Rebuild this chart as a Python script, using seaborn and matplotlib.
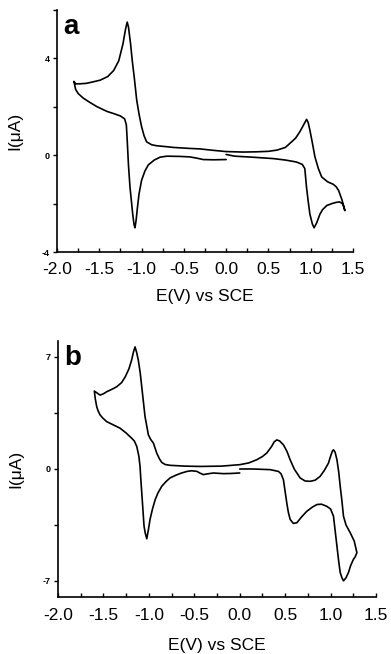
import matplotlib
matplotlib.use("Agg")
import matplotlib.pyplot as plt
from matplotlib.ticker import MultipleLocator
import numpy as np
import pandas as pd
import seaborn as sns

# Cyclic voltammogram (a): scan starts at 0.0 V, goes negative, then positive, back to 0.0 V
a_potential = [0.0, -0.15, -0.27, -0.35, -0.43, -0.55, -0.70, -0.78, -0.85, -0.92, -0.96, -1.0,
               -1.03, -1.05, -1.065, -1.078, -1.09, -1.105, -1.12, -1.137, -1.155, -1.17, -1.18,
               -1.2, -1.25, -1.33, -1.41, -1.53, -1.62, -1.69, -1.75, -1.78, -1.80,
               -1.78, -1.73, -1.65, -1.55, -1.49, -1.4, -1.33, -1.27, -1.22, -1.19, -1.17, -1.155,
               -1.13, -1.11, -1.086, -1.058, -1.03, -1.0, -0.97, -0.94, -0.88, -0.82, -0.7, -0.62,
               -0.43, -0.31, -0.15, 0.0, 0.2, 0.36, 0.5, 0.6, 0.7, 0.754, 0.82, 0.872, 0.92, 0.951,
               0.97, 0.99, 1.02, 1.05, 1.09, 1.13, 1.2, 1.265, 1.3, 1.33, 1.37, 1.404,
               1.38, 1.34, 1.30, 1.25, 1.19, 1.14, 1.11, 1.07, 1.04, 1.02, 0.99, 0.97, 0.95, 0.93,
               0.9, 0.83, 0.7, 0.557, 0.3, 0.1, 0.0]
a_current = [-0.18, -0.19, -0.18, -0.12, -0.07, -0.05, -0.04, -0.08, -0.2, -0.4, -0.65, -1.04,
             -1.6, -2.2, -2.7, -3.0, -2.85, -2.43, -1.9, -1.32, -0.4, 0.63, 1.25,
             1.5, 1.62, 1.72, 1.81, 2.01, 2.2, 2.36, 2.55, 2.72, 3.05,
             2.95, 2.95, 2.97, 3.05, 3.1, 3.25, 3.5, 3.9, 4.6, 5.2, 5.5, 5.3,
             4.6, 3.9, 3.2, 2.29, 1.7, 1.18, 0.8, 0.55, 0.43, 0.39, 0.35, 0.32,
             0.28, 0.26, 0.2, 0.15, 0.13, 0.14, 0.16, 0.21, 0.32, 0.49, 0.7, 0.97, 1.28, 1.48,
             1.35, 1.04, 0.5, -0.07, -0.55, -0.9, -1.1, -1.2, -1.3, -1.46, -1.85, -2.29,
             -2.01, -1.93, -1.95, -2.0, -2.08, -2.25, -2.43, -2.8, -3.0, -2.85, -2.43, -1.9, -1.31, -0.55,
             -0.38, -0.28, -0.2, -0.14, -0.08, -0.04, 0.03]

# Cyclic voltammogram (b)
b_potential = [0.0, -0.1, -0.18, -0.29, -0.35, -0.40, -0.44, -0.47, -0.53, -0.58, -0.64, -0.7,
               -0.767, -0.81, -0.858, -0.9, -0.93, -0.96, -0.987, -1.005, -1.023, -1.04, -1.053,
               -1.065, -1.078, -1.09, -1.097, -1.11, -1.133, -1.16, -1.19, -1.25, -1.317, -1.4,
               -1.464, -1.51, -1.537, -1.56, -1.574, -1.59, -1.60,
               -1.57, -1.537, -1.5, -1.464, -1.4, -1.354, -1.3, -1.26, -1.22, -1.19, -1.17, -1.152,
               -1.135, -1.116, -1.095, -1.078, -1.06, -1.042, -1.02, -1.005, -0.98, -0.95, -0.913,
               -0.885, -0.858, -0.82, -0.767, -0.6, -0.436, -0.2, 0.0, 0.1, 0.188, 0.25, 0.298,
               0.35, 0.38, 0.408, 0.44, 0.481, 0.52, 0.555, 0.6, 0.665, 0.72, 0.775, 0.83, 0.885,
               0.93, 0.977, 1.0, 1.02, 1.032, 1.05, 1.07, 1.09, 1.106, 1.125, 1.142, 1.17, 1.216,
               1.26, 1.29,
               1.27, 1.252, 1.22, 1.197, 1.17, 1.142, 1.125, 1.106, 1.09, 1.07, 1.05, 1.032, 1.0,
               0.958, 0.9, 0.85, 0.8, 0.739, 0.68, 0.629, 0.59, 0.555, 0.535, 0.518, 0.5, 0.481,
               0.455, 0.426, 0.335, 0.15, 0.0]
b_current = [-0.25, -0.28, -0.29, -0.25, -0.3, -0.35, -0.25, -0.15, -0.11, -0.15, -0.25, -0.38,
             -0.56, -0.78, -1.08, -1.5, -1.91, -2.5, -3.15, -3.8, -4.36, -4.0, -3.57,
             -2.6, -1.49, -0.5, 0.16, 0.8, 1.41, 1.75, 1.93, 2.25, 2.55, 2.78,
             2.96, 3.2, 3.38, 3.65, 3.9, 4.4, 4.87,
             4.75, 4.62, 4.7, 4.83, 5.0, 5.14, 5.4, 5.76, 6.25, 6.80, 7.3, 7.63,
             7.3, 6.80, 6.0, 5.14, 4.2, 3.27, 2.6, 2.13, 1.85, 1.62, 0.99,
             0.65, 0.41, 0.28, 0.23, 0.18, 0.16, 0.18, 0.27, 0.38, 0.58, 0.78, 1.0,
             1.4, 1.7, 1.82, 1.75, 1.51, 1.1, 0.58, 0.0, -0.56, -0.75, -0.77, -0.7, -0.46,
             -0.1, 0.37, 0.8, 1.12, 1.20, 1.05, 0.58, -0.2, -1.08, -2.0, -2.95, -3.5, -3.98,
             -4.5, -5.23,
             -5.5, -5.64, -6.05, -6.47, -6.8, -6.99, -6.8, -6.47, -5.8, -4.82, -3.8, -2.95, -2.5,
             -2.33, -2.2, -2.22, -2.38, -2.64, -3.0, -3.36, -3.4, -3.15, -2.7, -2.12, -1.4, -0.67,
             -0.3, -0.15, -0.04, 0.0, 0.0]

x_ticks = [-2.0, -1.5, -1.0, -0.5, 0.0, 0.5, 1.0, 1.5]
a_yticks = [-4, 0, 4]
b_yticks = [-7, 0, 7]

sns.set_style("ticks")
plt.rcParams["font.family"] = ["Liberation Sans", "DejaVu Sans"]
plt.rcParams["text.color"] = "black"
plt.rcParams["axes.labelcolor"] = "black"
plt.rcParams["xtick.color"] = "black"
plt.rcParams["ytick.color"] = "black"

fig = plt.figure(figsize=(3.91, 6.54), dpi=100)
ax_a = fig.add_axes([57 / 391, 1 - 252 / 654, 296 / 391, 242 / 654])
ax_b = fig.add_axes([58 / 391, 1 - 597 / 654, 318 / 391, 256 / 654])

panels = [
    (ax_a, a_potential, a_current, a_yticks, (-4, 6), 2.0, "a", 7, 9),
    (ax_b, b_potential, b_current, b_yticks, (-8, 8), 3.5, "b", 8, 11),
]

for ax, pot, cur, yt, ylim, yminor, letter, tpad, lpad in panels:
    df = pd.DataFrame({"E": pot, "I": cur})
    sns.lineplot(data=df, x="E", y="I", sort=False, estimator=None,
                 color="black", linewidth=1.2, ax=ax)
    ax.set_xlim(-2.0, 1.5)
    ax.set_ylim(*ylim)
    ax.set_xticks(x_ticks)
    ax.set_xticklabels([f"{t:.1f}" for t in x_ticks])
    ax.xaxis.set_minor_locator(MultipleLocator(0.25))
    ax.set_yticks(yt)
    ax.set_yticklabels([str(t) for t in yt], fontsize=6.5, fontweight="bold")
    ax.yaxis.set_minor_locator(MultipleLocator(yminor))
    ax.tick_params(axis="x", which="both", direction="in", length=3, width=1,
                   labelsize=12.5, pad=tpad)
    ax.tick_params(axis="y", which="both", direction="out", length=3, width=1, pad=2)
    for s in ("top", "right"):
        ax.spines[s].set_visible(False)
    for s in ("left", "bottom"):
        ax.spines[s].set_linewidth(1.2)
        ax.spines[s].set_color("black")
    ax.set_xlabel("E(V) vs SCE", fontsize=12.5, labelpad=lpad)
    ax.set_ylabel("I(\u03bcA)", fontsize=12.5, labelpad=14)
    ax.text(0.02, 0.985, letter, transform=ax.transAxes, fontsize=20,
            fontweight="bold", va="top", ha="left", color="black")

fig.savefig("out.png", dpi=100, facecolor="white")
